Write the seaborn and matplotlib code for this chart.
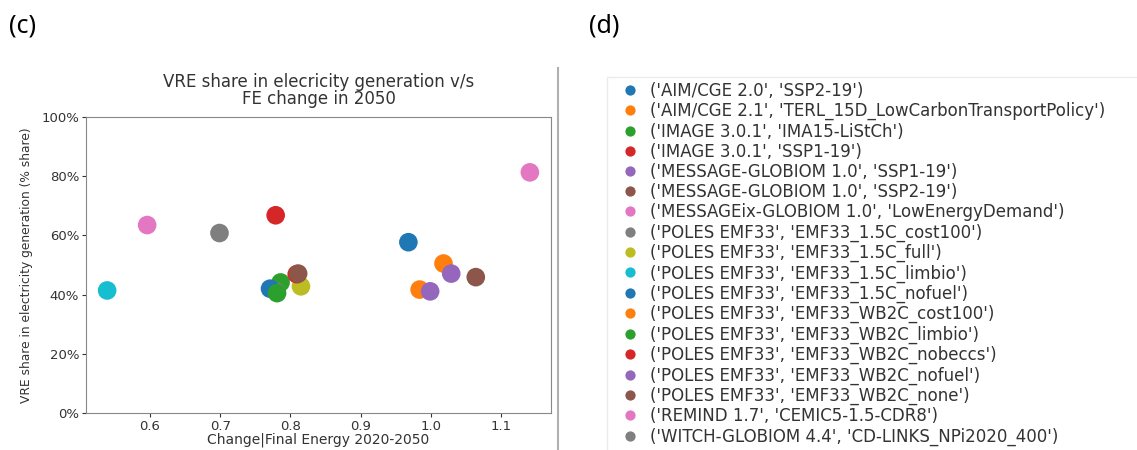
import matplotlib
matplotlib.use("Agg")
import matplotlib.pyplot as plt
import seaborn as sns
import pandas as pd
from matplotlib.ticker import PercentFormatter
from matplotlib.lines import Line2D

models = [
    "AIM/CGE 2.0", "AIM/CGE 2.1", "IMAGE 3.0.1", "IMAGE 3.0.1",
    "MESSAGE-GLOBIOM 1.0", "MESSAGE-GLOBIOM 1.0", "MESSAGEix-GLOBIOM 1.0",
    "POLES EMF33", "POLES EMF33", "POLES EMF33", "POLES EMF33",
    "POLES EMF33", "POLES EMF33", "POLES EMF33", "POLES EMF33",
    "POLES EMF33", "REMIND 1.7", "WITCH-GLOBIOM 4.4",
]
scenarios = [
    "SSP2-19", "TERL_15D_LowCarbonTransportPolicy", "IMA15-LiStCh", "SSP1-19",
    "SSP1-19", "SSP2-19", "LowEnergyDemand",
    "EMF33_1.5C_cost100", "EMF33_1.5C_full", "EMF33_1.5C_limbio", "EMF33_1.5C_nofuel",
    "EMF33_WB2C_cost100", "EMF33_WB2C_limbio", "EMF33_WB2C_nobeccs", "EMF33_WB2C_nofuel",
    "EMF33_WB2C_none", "CEMIC5-1.5-CDR8", "CD-LINKS_NPi2020_400",
]
fe_change = [0.968, 1.018, 0.786, 0.779, 1.029, 1.064, 0.596,
             0.780, 0.815, 0.539, 0.771, 0.984, 0.781, 0.809,
             0.999, 0.811, 1.141, 0.699]
vre_share = [0.577, 0.505, 0.441, 0.668, 0.471, 0.459, 0.635,
             0.410, 0.428, 0.414, 0.420, 0.417, 0.405, 0.469,
             0.411, 0.471, 0.813, 0.608]

labels = [f"('{m}', '{s}')" for m, s in zip(models, scenarios)]
df = pd.DataFrame({"label": labels, "fe": fe_change, "vre": vre_share})
tab10 = sns.color_palette("tab10")
palette = {lab: tab10[i % 10] for i, lab in enumerate(labels)}

W, H = 1137, 450
fig = plt.figure(figsize=(W / 100, H / 100), dpi=100)
ax = fig.add_axes([86 / W, 1 - 413 / H, (551 - 86) / W, (413 - 117) / H])

sns.scatterplot(data=df, x="fe", y="vre", hue="label", hue_order=labels,
                palette=palette, s=180, linewidth=0, ax=ax, legend=True)

ax.set_ylim(0, 1)
ax.set_yticks([0, 0.2, 0.4, 0.6, 0.8, 1.0])
ax.yaxis.set_major_formatter(PercentFormatter(1.0, decimals=0))
ax.set_xticks([0.6, 0.7, 0.8, 0.9, 1.0, 1.1])
ax.tick_params(labelsize=9.5, colors="#333333", length=3, pad=2)
for sp in ax.spines.values():
    sp.set_color("#888888")
ax.set_xlabel("Change|Final Energy 2020-2050", fontsize=10, color="#333333", labelpad=0)
ax.set_ylabel("VRE share in electricity generation (% share)", fontsize=8.8,
              color="#333333", labelpad=6)
ax.set_title("VRE share in elecricity generation v/s\nFE change in 2050",
             fontsize=12, color="#333333", pad=9, linespacing=0.95)

handles, labs = ax.get_legend_handles_labels()
ax.get_legend().remove()
top = 1 - 77 / H
leg = fig.legend(handles, labs, loc="upper left",
                 bbox_to_anchor=(607 / W, top - 0.5, (1145 - 607) / W, 0.5),
                 bbox_transform=fig.transFigure, mode="expand",
                 borderaxespad=0, fontsize=12, labelspacing=0.13, markerscale=0.55,
                 handlelength=2.15, handletextpad=0.15, borderpad=0.3,
                 frameon=True, fancybox=False, edgecolor="#e6e6e6")
for t in leg.get_texts():
    t.set_color("#333333")

fig.add_artist(Line2D([558 / W, 558 / W], [0, 1 - 68 / H], transform=fig.transFigure,
                      color="#b0b0b0", lw=1.5))

fig.text(9 / W, 1 - 26 / H, "(c)", fontsize=18, family="Noto Sans", va="center")
fig.text(589 / W, 1 - 26 / H, "(d)", fontsize=18, family="Noto Sans", va="center")

fig.savefig("out.png", dpi=100)
